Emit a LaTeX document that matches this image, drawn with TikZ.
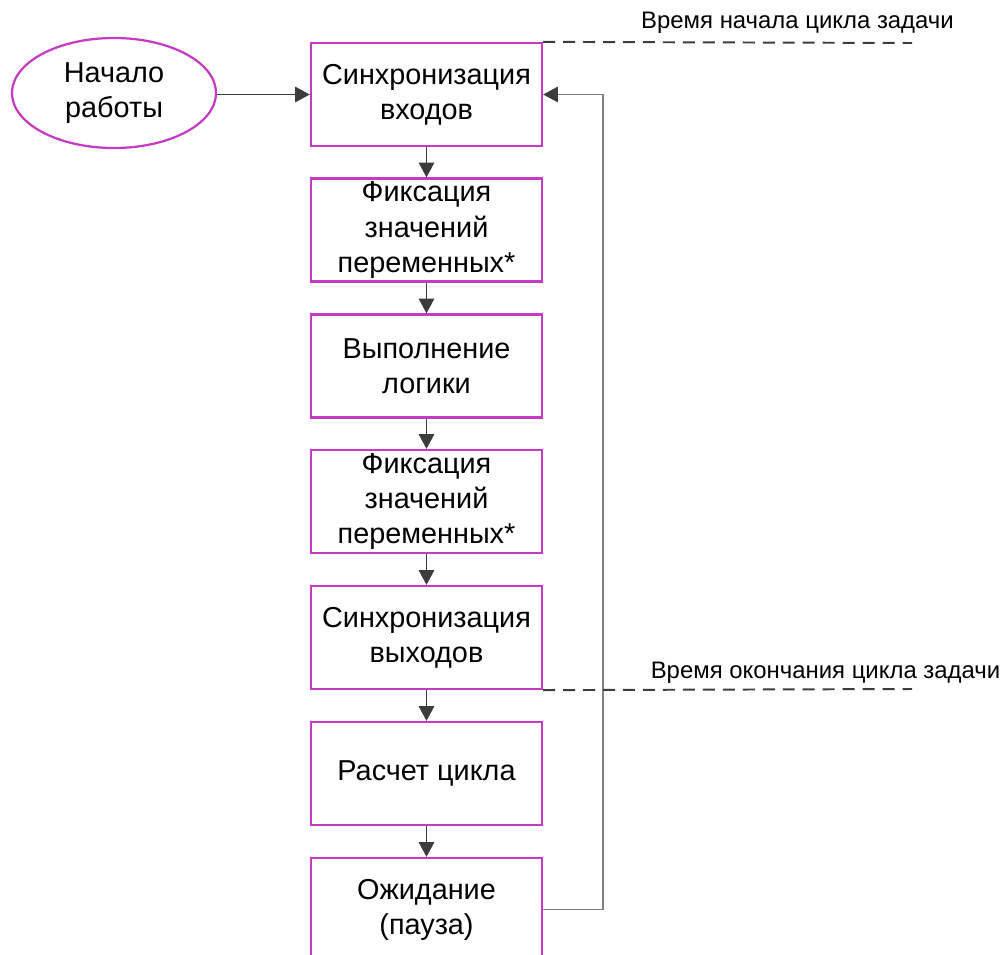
\documentclass[tikz,border=0pt]{standalone}
\usepackage{fontspec}
\setmainfont{Liberation Sans}
\usetikzlibrary{shapes.geometric,arrows.meta}
\definecolor{boxmag}{RGB}{196,60,196}
\definecolor{arrgray}{RGB}{60,60,60}
\begin{document}
\begin{tikzpicture}[x=0.025cm,y=-0.025cm,
  stage/.style={draw=boxmag, line width=1.6pt, minimum width=5.775cm, minimum height=2.575cm,
    align=center, inner sep=0pt, font=\fontsize{20.5}{25}\selectfont},
  startnode/.style={draw=boxmag, line width=1.6pt, ellipse, minimum width=5.1cm, minimum height=2.75cm,
    align=center, inner sep=0pt, font=\fontsize{20.5}{25}\selectfont},
  flow/.style={draw=arrgray, line width=1.1pt, -{Triangle[length=10.5pt,width=11pt]}},
  back/.style={draw=gray, line width=1.1pt, -{Triangle[length=10.5pt,width=11pt,color=arrgray]}},
  timeline/.style={draw=arrgray, line width=1.4pt, dash pattern=on 8.5pt off 5.7pt},
  timelabel/.style={font=\fontsize{17}{20}\selectfont, inner sep=0pt}]
\useasboundingbox (0,0) rectangle (1002,955);
\node[startnode] (start) at (114,93) {Начало\\работы};
\node[stage] (syncin) at (426.5,94.5) {Синхронизация\\входов};
\node[stage] (fix1) at (426.5,230) {Фиксация\\значений\\переменных*};
\node[stage] (logic) at (426.5,366) {Выполнение\\логики};
\node[stage] (fix2) at (426.5,501.5) {Фиксация\\значений\\переменных*};
\node[stage] (syncout) at (426.5,637.5) {Синхронизация\\выходов};
\node[stage] (calc) at (426.5,773.5) {Расчет цикла};
\node[stage] (wait) at (426.5,909.5) {Ожидание\\(пауза)};
\coordinate (tstart) at (912,43);
\coordinate (tend) at (912,689);
\coordinate (loop) at (603,94.5);
\draw[flow] (start.east |- syncin.west) -- (syncin.west);
\draw[flow] (syncin) -- (fix1);
\draw[flow] (fix1) -- (logic);
\draw[flow] (logic) -- (fix2);
\draw[flow] (fix2) -- (syncout);
\draw[flow] (syncout) -- (calc);
\draw[flow] (calc) -- (wait);
\draw[back] (wait.east) -| (loop) -- (syncin.east);
\draw[timeline] (syncin.north east) -- (tstart);
\draw[timeline] (syncout.south east) -- (tend);
\node[timelabel] (lstart) at (797.5,23) {Время начала цикла задачи};
\node[timelabel] (lend) at (825.5,673) {Время окончания цикла задачи};
\end{tikzpicture}
\end{document}
